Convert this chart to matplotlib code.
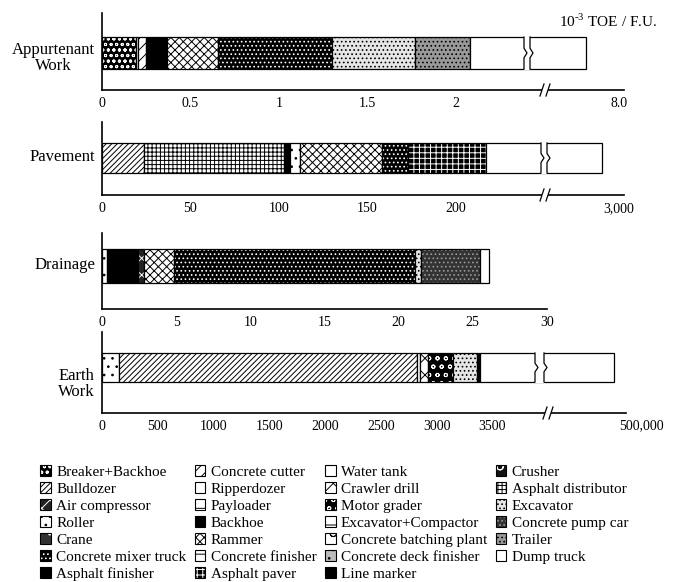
import numpy as np
import matplotlib.pyplot as plt
from matplotlib.patches import Patch, Polygon, Rectangle
from matplotlib.legend_handler import HandlerTuple

plt.rcParams['font.family'] = ['Liberation Serif', 'DejaVu Serif']
plt.rcParams['mathtext.fontset'] = 'custom'
plt.rcParams['mathtext.rm'] = 'Liberation Serif'
plt.rcParams['hatch.linewidth'] = 0.7

W, H = 679, 582

# --- data: energy per functional unit, by equipment (10^-3 TOE / F.U.) ---
appurtenant_names = ['Breaker+Backhoe', 'Water tank', 'Concrete cutter', 'Backhoe', 'Rammer',
                     'Concrete mixer truck', 'Excavator', 'Trailer', 'Dump truck']
appurtenant_vals = [0.19, 0.015, 0.045, 0.12, 0.285, 0.645, 0.47, 0.31, 3.52]

pavement_names = ['Bulldozer', 'Asphalt distributor', 'Asphalt finisher', 'Roller', 'Rammer',
                  'Concrete mixer truck', 'Asphalt paver', 'Dump truck']
pavement_vals = [23.6, 79.4, 3.0, 5.6, 46.8, 14.6, 43.7, 2150]

drainage_names = ['Roller', 'Backhoe', 'Air compressor', 'Rammer', 'Concrete mixer truck',
                  'Excavator', 'Concrete pump car', 'Dump truck']
drainage_vals = [0.32, 2.12, 0.36, 2.05, 16.25, 0.4, 4.0, 0.6]

earth_names = ['Roller', 'Bulldozer', 'Water tank', 'Crawler drill', 'Motor grader',
               'Excavator', 'Backhoe', 'Dump truck']
earth_vals = [148, 2676, 31, 67, 226, 215, 27, 352600]

# legend, column by column as printed
legend_names = ['Breaker+Backhoe', 'Bulldozer', 'Air compressor', 'Roller', 'Crane',
                'Concrete mixer truck', 'Asphalt finisher',
                'Concrete cutter', 'Ripperdozer', 'Payloader', 'Backhoe', 'Rammer',
                'Concrete finisher', 'Asphalt paver',
                'Water tank', 'Crawler drill', 'Motor grader', 'Excavator+Compactor',
                'Concrete batching plant', 'Concrete deck finisher', 'Line marker',
                'Crusher', 'Asphalt distributor', 'Excavator', 'Concrete pump car',
                'Trailer', 'Dump truck']

# face colour, hatch colour, hatch
styles = {
    'Breaker+Backhoe': ('black', 'white', 'ooo'),
    'Bulldozer': ('white', 'black', '//////'),
    'Air compressor': ('#222222', 'white', 'xx'),
    'Roller': ('white', 'black', '..'),
    'Crane': ('#333333', 'white', '.'),
    'Concrete mixer truck': ('black', 'white', '....'),
    'Asphalt finisher': ('black', 'black', ''),
    'Concrete cutter': ('white', 'black', '///'),
    'Ripperdozer': ('white', 'black', ''),
    'Payloader': ('white', 'black', '+'),
    'Backhoe': ('black', 'black', ''),
    'Rammer': ('white', 'black', 'xxxx'),
    'Concrete finisher': ('white', 'black', '--'),
    'Asphalt paver': ('black', 'white', '+++'),
    'Water tank': ('white', 'black', ''),
    'Crawler drill': ('white', 'black', 'xx'),
    'Motor grader': ('black', 'white', 'oo'),
    'Excavator+Compactor': ('white', 'black', '-'),
    'Concrete batching plant': ('white', 'black', 'o'),
    'Concrete deck finisher': ('#bbbbbb', 'black', '..'),
    'Line marker': ('black', 'black', ''),
    'Crusher': ('#111111', 'white', 'o'),
    'Asphalt distributor': ('white', 'black', '++++'),
    'Excavator': ('#e6e6e6', 'black', '....'),
    'Concrete pump car': ('#333333', '#999999', '....'),
    'Trailer': ('#999999', 'black', '....'),
    'Dump truck': ('white', 'black', ''),
}

panels = [
    dict(label='Appurtenant\nWork', names=appurtenant_names, vals=appurtenant_vals,
         ticks=[0, 0.5, 1, 1.5, 2], ticklabels=['0', '0.5', '1', '1.5', '2'],
         brk=2.5, vmax=8.0, endlabel='8.0',
         rows=(13, 90, 37, 69), label_y=58, right=624, ppu=177, end_px=619,
         bar_gap=(524, 530), axis_gap=545),
    dict(label='Pavement', names=pavement_names, vals=pavement_vals,
         ticks=[0, 50, 100, 150, 200], ticklabels=['0', '50', '100', '150', '200'],
         brk=250, vmax=3000, endlabel='3,000',
         rows=(122, 195, 143, 173), label_y=157, right=624, ppu=1.77, end_px=619,
         bar_gap=(541, 547), axis_gap=545),
    dict(label='Drainage', names=drainage_names, vals=drainage_vals,
         ticks=[0, 5, 10, 15, 20, 25, 30], ticklabels=['0', '5', '10', '15', '20', '25', '30'],
         brk=None, rows=(233, 309, 249, 283), label_y=265, right=547, ppu=14.83),
    dict(label='Earth\nWork', names=earth_names, vals=earth_vals,
         ticks=[0, 500, 1000, 1500, 2000, 2500, 3000, 3500],
         ticklabels=['0', '500', '1000', '1500', '2000', '2500', '3000', '3500'],
         brk=4000, vmax=500000, endlabel='500,000',
         rows=(332, 413, 353, 382), label_y=384, right=626, ppu=0.1115, end_px=641,
         bar_gap=(535, 544), axis_gap=548),
]


def make_funcs(b, vmax, vd):
    k = (vd - b) / (vmax - b)

    def fwd(v):
        v = np.asarray(v, dtype=float)
        return np.where(v <= b, v, b + (v - b) * k)

    def inv(d):
        d = np.asarray(d, dtype=float)
        return np.where(d <= b, d, b + (d - b) / k)
    return fwd, inv


fig = plt.figure(figsize=(W / 100, H / 100), dpi=100)
left = 102

for p in panels:
    top, axis_y, bt, bb = p['rows']
    ax = fig.add_axes([left / W, 1 - axis_y / H, (p['right'] - left) / W, (axis_y - top) / H])
    ax.set_ylim(0, axis_y - top)
    yc = axis_y - (bt + bb) / 2
    bh = bb - bt
    xmax_d = (p['right'] - left) / p['ppu']

    if p['brk'] is not None:
        vd = (p['end_px'] - left) / p['ppu']
        fwd, inv = make_funcs(p['brk'], p['vmax'], vd)
        ax.set_xscale('function', functions=(fwd, inv))
        xmax = float(inv(xmax_d))
    else:
        inv = lambda d: d
        xmax = xmax_d
    ax.set_xlim(0, xmax)

    lefts = np.concatenate([[0], np.cumsum(p['vals'])[:-1]])
    for n, v, l in zip(p['names'], p['vals'], lefts):
        fc, hc, h = styles[n]
        ax.barh(yc, v, left=l, height=bh, color=fc, edgecolor=hc, hatch=h, lw=0)
        ax.barh(yc, v, left=l, height=bh, fill=False, edgecolor='black', lw=0.9)

    def px2val(px):
        return float(inv((px - left) / p['ppu']))

    ticks = list(p['ticks'])
    labels = list(p['ticklabels'])
    if p['brk'] is not None:
        if p['vmax'] <= xmax:
            ticks.append(p['vmax'])
            labels.append(p['endlabel'])
        else:
            ax.annotate(p['endlabel'], xy=(1, 0), xycoords='axes fraction',
                        xytext=(p['end_px'] - p['right'], -6), textcoords='offset pixels',
                        ha='center', va='top', fontsize=10)

        # zigzag gap in the bar
        g0, g1 = p['bar_gap']
        ys = [bt - 1, bt + 0.35 * bh, bt + 0.5 * bh, bt + 0.65 * bh, bb + 1]
        offs = [0, 0, 3, 0, 0]
        ys = [axis_y - y for y in ys]
        lx = [px2val(g0 + o) for o in offs]
        rx = [px2val(g1 + o) for o in offs]
        poly = list(zip(lx, ys)) + list(zip(rx[::-1], ys[::-1]))
        ax.add_patch(Polygon(poly, closed=True, fc='white', ec='none', zorder=3))
        for ex in (lx, rx):
            ax.plot(ex, [axis_y - bt] + ys[1:-1] + [axis_y - bb],
                    color='black', lw=0.9, zorder=4)

        # break marks on the axis
        a = p['axis_gap']
        ax.add_patch(Rectangle((px2val(a - 3), -2), px2val(a + 3) - px2val(a - 3), 4,
                               fc='white', ec='none', clip_on=False, zorder=4))
        for xm in (a - 3, a + 3):
            ax.plot([px2val(xm - 2), px2val(xm + 2)], [-6, 6], color='black', lw=0.9,
                    clip_on=False, zorder=5)

    ax.set_xticks(ticks, labels)
    ax.tick_params(axis='x', length=0, pad=5, labelsize=10)
    ax.set_yticks([])
    for s in ('top', 'right'):
        ax.spines[s].set_visible(False)
    for s in ('left', 'bottom'):
        ax.spines[s].set_linewidth(1.2)

    fig.text(95 / W, 1 - p['label_y'] / H, p['label'], ha='right', va='center',
             multialignment='center', fontsize=12, linespacing=1.05)

fig.text(608 / W, 1 - 21 / H, r'10$^{\mathrm{\text{-}3}}$ TOE / F.U.', ha='center',
         va='center', fontsize=11)

handles = []
for n in legend_names:
    fc, hc, h = styles[n]
    handles.append((Patch(facecolor=fc, edgecolor=hc, hatch=h, lw=0),
                    Patch(fill=False, edgecolor='black', lw=0.8)))

fig.legend(handles, legend_names, ncol=4, loc='upper left',
           bbox_to_anchor=(40 / W, 1 - 465 / H), frameon=False, fontsize=11,
           handler_map={tuple: HandlerTuple(ndivide=1, pad=0)},
           handlelength=0.7, handleheight=0.7, handletextpad=0.35,
           columnspacing=0.55, labelspacing=0.22, borderpad=0, borderaxespad=0)

fig.savefig('out.png', dpi=100)
